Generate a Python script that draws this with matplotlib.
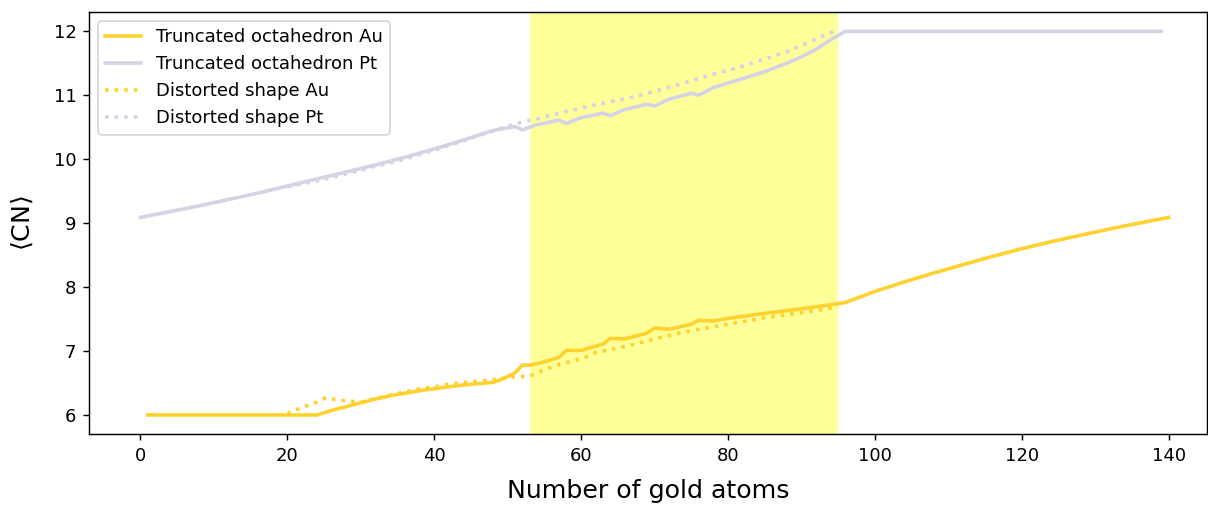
import matplotlib
matplotlib.use("Agg")
import matplotlib.pyplot as plt

# truncated octahedron, gold atoms
au_x = [1, 24, 26, 28, 30, 32, 34, 36, 38, 40, 42, 44, 46, 48, 49, 50, 51, 52, 53, 54,
        57, 58, 60, 63, 64, 66, 69, 70, 72, 75, 76, 78, 80, 85, 90, 95, 96,
        100, 104, 108, 112, 116, 120, 124, 128, 132, 136, 140]
au_y = [6.0, 6.0, 6.07, 6.13, 6.19, 6.25, 6.30, 6.34, 6.38, 6.41, 6.44, 6.47, 6.49, 6.51, 6.55, 6.6, 6.66, 6.78, 6.78, 6.80,
        6.90, 7.01, 7.01, 7.11, 7.20, 7.19, 7.28, 7.36, 7.34, 7.42, 7.48, 7.47, 7.51, 7.59, 7.66, 7.74, 7.76,
        7.93, 8.08, 8.22, 8.35, 8.48, 8.60, 8.71, 8.81, 8.91, 9.00, 9.09]

# truncated octahedron, platinum atoms
pt_x = [0, 4, 8, 12, 16, 20, 24, 28, 32, 36, 40, 44, 48, 50, 51, 52, 54, 57, 58, 60,
        63, 64, 66, 69, 70, 72, 75, 76, 78, 80, 82, 85, 88, 90, 92, 94, 96, 139]
pt_y = [9.09, 9.18, 9.27, 9.37, 9.47, 9.58, 9.69, 9.80, 9.91, 10.03, 10.16, 10.30, 10.45, 10.49, 10.51, 10.46, 10.54, 10.61, 10.56, 10.65,
        10.72, 10.68, 10.78, 10.86, 10.83, 10.94, 11.03, 11.00, 11.12, 11.19, 11.26, 11.37, 11.50, 11.60, 11.72, 11.87, 12.0, 12.0]

# distorted shape
dau_x = [20, 22, 24, 25, 26, 28, 30, 32, 34, 36, 38, 40, 42, 44, 46, 48, 50, 52, 53, 54, 55,
         57, 60, 61, 62, 64, 67, 70, 73, 76, 80, 85, 90, 95]
dau_y = [6.02, 6.12, 6.20, 6.26, 6.25, 6.22, 6.20, 6.26, 6.31, 6.36, 6.41, 6.44, 6.48, 6.51, 6.53, 6.55, 6.59, 6.60, 6.61, 6.65, 6.71,
         6.79, 6.88, 6.92, 6.98, 7.02, 7.10, 7.19, 7.27, 7.34, 7.42, 7.52, 7.60, 7.69]

dpt_x = [20, 24, 28, 32, 36, 40, 44, 48, 50, 52, 54, 57, 60, 64, 67, 70, 74, 78, 81, 84, 88, 92, 94, 95]
dpt_y = [9.57, 9.66, 9.77, 9.89, 10.0, 10.14, 10.29, 10.44, 10.52, 10.58, 10.63, 10.72, 10.80, 10.90, 10.97, 11.06, 11.19, 11.33, 11.42, 11.53, 11.68, 11.88, 11.98, 12.0]

span = (53, 95)

au_color = "#fdd22f"
pt_color = "#d4d2e5"

fig, ax = plt.subplots(figsize=(1208 / 130, 506 / 130), dpi=130)
fig.subplots_adjust(left=0.0737, right=0.999, top=0.976, bottom=0.142)

ax.axvspan(span[0], span[1], color="yellow", alpha=0.4, lw=0)
ax.plot(au_x, au_y, color=au_color, lw=2, label="Truncated octahedron Au")
ax.plot(pt_x, pt_y, color=pt_color, lw=2, label="Truncated octahedron Pt")
ax.plot(dau_x, dau_y, color=au_color, lw=2, ls=":", label="Distorted shape Au")
ax.plot(dpt_x, dpt_y, color=pt_color, lw=2, ls=":", label="Distorted shape Pt")

ax.set_xlim(-7, 145.2)
ax.set_ylim(5.7, 12.3)
ax.set_xticks([0, 20, 40, 60, 80, 100, 120, 140])
ax.set_yticks([6, 7, 8, 9, 10, 11, 12])

ax.set_xlabel("Number of gold atoms", fontsize=14, labelpad=8)
ax.set_ylabel(r"$\langle$CN$\rangle$", fontsize=14, labelpad=10)
ax.legend(loc="upper left")

fig.savefig("out.png", dpi=130)
